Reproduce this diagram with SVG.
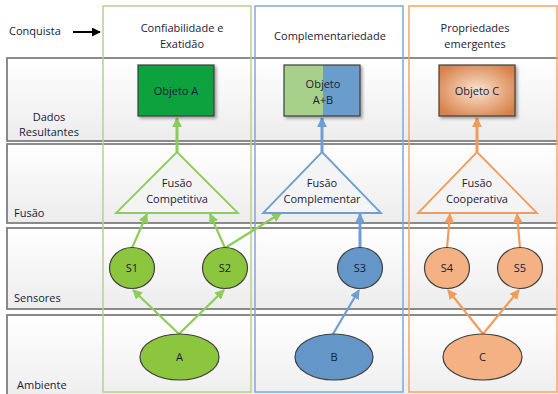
<svg xmlns="http://www.w3.org/2000/svg" width="558" height="394" viewBox="0 0 558 394">
<defs>
<linearGradient id="rowg" x1="0" y1="0" x2="0" y2="1"><stop offset="0" stop-color="#ffffff"/><stop offset="1" stop-color="#ececec"/></linearGradient>
<radialGradient id="orng" cx="0.5" cy="0.5" r="0.6"><stop offset="0" stop-color="#fbe3d0"/><stop offset="1" stop-color="#d8824a"/></radialGradient>
<filter id="sh" x="-20%" y="-20%" width="150%" height="150%"><feDropShadow dx="2" dy="2" stdDeviation="1.5" flood-color="#000" flood-opacity="0.35"/></filter>
<marker id="mg" viewBox="0 0 10 10" refX="9" refY="5" markerWidth="4.5" markerHeight="4.5" orient="auto" markerUnits="strokeWidth"><path d="M0,0 L10,5 L0,10 z" fill="#8ccc5a"/></marker>
<marker id="mgt" viewBox="0 0 10 10" refX="9" refY="5" markerWidth="3.3" markerHeight="3.3" orient="auto" markerUnits="strokeWidth"><path d="M0,0 L10,5 L0,10 z" fill="#8ccc5a"/></marker>
<marker id="mb" viewBox="0 0 10 10" refX="9" refY="5" markerWidth="4.5" markerHeight="4.5" orient="auto" markerUnits="strokeWidth"><path d="M0,0 L10,5 L0,10 z" fill="#6e9fd2"/></marker>
<marker id="mbt" viewBox="0 0 10 10" refX="9" refY="5" markerWidth="3.3" markerHeight="3.3" orient="auto" markerUnits="strokeWidth"><path d="M0,0 L10,5 L0,10 z" fill="#6e9fd2"/></marker>
<marker id="mo" viewBox="0 0 10 10" refX="9" refY="5" markerWidth="4.5" markerHeight="4.5" orient="auto" markerUnits="strokeWidth"><path d="M0,0 L10,5 L0,10 z" fill="#f09c5c"/></marker>
<marker id="mot" viewBox="0 0 10 10" refX="9" refY="5" markerWidth="3.3" markerHeight="3.3" orient="auto" markerUnits="strokeWidth"><path d="M0,0 L10,5 L0,10 z" fill="#f09c5c"/></marker>
<marker id="mk" viewBox="0 0 10 10" refX="9" refY="5" markerWidth="4.5" markerHeight="4.5" orient="auto" markerUnits="strokeWidth"><path d="M0,0 L10,5 L0,10 z" fill="#000"/></marker>
</defs>
<style>
text{font-family:"Open Sans","Noto Sans",sans-serif;font-size:11px;fill:#1a1a38}
.c{text-anchor:middle}
.row{fill:url(#rowg);stroke:#7f7f7f;stroke-width:1.8}
.col{fill:none;stroke-width:1.5}
.node{stroke:#3f3f3f;stroke-width:1.2}
.lg{stroke:#8ccc5a;fill:none}
.lb{stroke:#6e9fd2;fill:none}
.lo{stroke:#f09c5c;fill:none}
</style>
<rect width="558" height="394" fill="#fff"/>
<g id="rows">
<rect class="row" x="7" y="58" width="560" height="83"/>
<rect class="row" x="7" y="144" width="560" height="79"/>
<rect class="row" x="7" y="228" width="560" height="81"/>
<rect class="row" x="7" y="315" width="560" height="90"/>
</g>
<g id="columns">
<rect class="col" x="103" y="6" width="148" height="386" stroke="#b8cf90"/>
<rect class="col" x="255" y="6" width="148" height="386" stroke="#7ea8d8"/>
<rect class="col" x="409" y="6" width="148" height="386" stroke="#f3a66c"/>
</g>
<g id="labels">
<text x="9" y="35">Conquista</text>
<text class="c" x="49" y="121">Dados</text>
<text class="c" x="49" y="136">Resultantes</text>
<text x="14" y="217">Fusão</text>
<text x="14" y="302">Sensores</text>
<text x="17" y="389">Ambiente</text>
<text class="c" x="182" y="32">Confiabilidade e</text>
<text class="c" x="182" y="48">Exatidão</text>
<text class="c" x="330" y="40">Complementariedade</text>
<text class="c" x="475" y="32">Propriedades</text>
<text class="c" x="475" y="48">emergentes</text>
</g>
<g id="connectors" stroke-width="2.2">
<line x1="73" y1="32" x2="100" y2="32" stroke="#000" stroke-width="2" marker-end="url(#mk)"/>
<line class="lg" x1="177" y1="152" x2="177" y2="118" stroke-width="3" marker-end="url(#mgt)"/>
<line class="lb" x1="322" y1="152" x2="322" y2="118" stroke-width="3" marker-end="url(#mbt)"/>
<line class="lo" x1="477" y1="152" x2="477" y2="118" stroke-width="3" marker-end="url(#mot)"/>
<line class="lg" x1="132" y1="248" x2="147" y2="214" marker-end="url(#mg)"/>
<line class="lg" x1="225" y1="248" x2="210" y2="214" marker-end="url(#mg)"/>
<line class="lg" x1="225" y1="248" x2="281" y2="213" marker-end="url(#mg)"/>
<line class="lb" x1="360" y1="248" x2="360" y2="214" stroke-width="3" marker-end="url(#mbt)"/>
<line class="lo" x1="447" y1="248" x2="450" y2="214" marker-end="url(#mo)"/>
<line class="lo" x1="520" y1="248" x2="517" y2="214" marker-end="url(#mo)"/>
<line class="lg" x1="179" y1="334" x2="133" y2="290" marker-end="url(#mg)"/>
<line class="lg" x1="179" y1="334" x2="224" y2="290" marker-end="url(#mg)"/>
<line class="lb" x1="333" y1="334" x2="359" y2="290" marker-end="url(#mb)"/>
<line class="lo" x1="483" y1="334" x2="448" y2="290" marker-end="url(#mo)"/>
<line class="lo" x1="483" y1="334" x2="519" y2="290" marker-end="url(#mo)"/>
</g>
<g id="objA">
<rect x="138" y="65" width="76" height="51" fill="#10a23e" stroke="#3f3f3f" stroke-width="1.2" filter="url(#sh)"/>
<text class="c" x="176" y="95">Objeto A</text>
</g>
<g id="objAB">
<g filter="url(#sh)">
<rect x="284" y="65" width="39" height="51" fill="#a7d08a"/>
<rect x="323" y="65" width="37" height="51" fill="#6a9dcc"/>
<rect x="284" y="65" width="76" height="51" fill="none" stroke="#3f3f3f" stroke-width="1.2"/>
</g>
<text class="c" x="323" y="88">Objeto</text>
<text class="c" x="323" y="104">A+B</text>
</g>
<g id="objC">
<rect x="439" y="65" width="76" height="51" fill="url(#orng)" stroke="#3f3f3f" stroke-width="1.2" filter="url(#sh)"/>
<text class="c" x="477" y="95">Objeto C</text>
</g>
<g id="fusComp">
<polygon points="177,152 238,213 116,213" fill="#f4f4f4" stroke="#8ccc5a" stroke-width="1.8"/>
<text class="c" x="177" y="187">Fusão</text>
<text class="c" x="177" y="203">Competitiva</text>
</g>
<g id="fusCompl">
<polygon points="322,152 381,213 263,213" fill="#f4f4f4" stroke="#6e9fd2" stroke-width="1.8"/>
<text class="c" x="322" y="187">Fusão</text>
<text class="c" x="322" y="203">Complementar</text>
</g>
<g id="fusCoop">
<polygon points="477,152 537,213 418,213" fill="#f4f4f4" stroke="#f09c5c" stroke-width="1.8"/>
<text class="c" x="477" y="187">Fusão</text>
<text class="c" x="477" y="203">Cooperativa</text>
</g>
<g id="S1"><ellipse class="node" cx="132" cy="268" rx="22.5" ry="20.5" fill="#8cc63f"/><text class="c" x="132" y="272">S1</text></g>
<g id="S2"><ellipse class="node" cx="225" cy="268" rx="22.5" ry="20.5" fill="#8cc63f"/><text class="c" x="225" y="272">S2</text></g>
<g id="S3"><ellipse class="node" cx="360" cy="268" rx="22.5" ry="20.5" fill="#6496c8"/><text class="c" x="360" y="272">S3</text></g>
<g id="S4"><ellipse class="node" cx="447" cy="268" rx="22.5" ry="20.5" fill="#f4b183"/><text class="c" x="447" y="272">S4</text></g>
<g id="S5"><ellipse class="node" cx="520" cy="268" rx="22.5" ry="20.5" fill="#f4b183"/><text class="c" x="520" y="272">S5</text></g>
<g id="A"><ellipse class="node" cx="179.5" cy="357" rx="39.5" ry="23" fill="#8cc63f"/><text class="c" x="179.5" y="361">A</text></g>
<g id="B"><ellipse class="node" cx="334" cy="357" rx="39" ry="23" fill="#6496c8"/><text class="c" x="334" y="361">B</text></g>
<g id="C"><ellipse class="node" cx="482.5" cy="357" rx="39.5" ry="23" fill="#f4b183"/><text class="c" x="482.5" y="361">C</text></g>
</svg>
